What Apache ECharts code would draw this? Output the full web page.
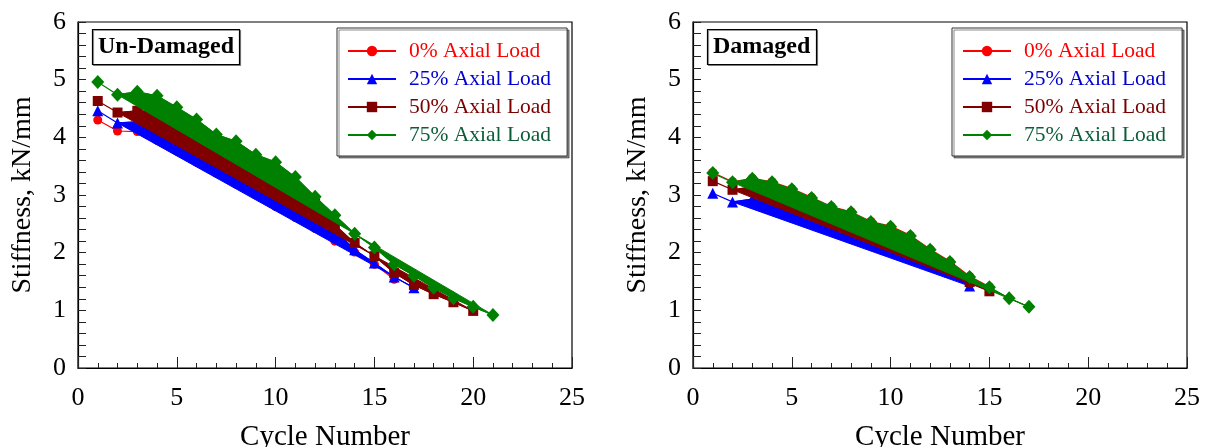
<!DOCTYPE html>
<html>
<head>
<meta charset="utf-8">
<script src="https://cdn.jsdelivr.net/npm/echarts@6/dist/echarts.min.js"></script>
<style>
  html, body { margin: 0; padding: 0; background: #fff; }
  #chart { width: 1211px; height: 447px; }
</style>
</head>
<body>
<div id="chart"></div>
<script>
// cycle numbers and stiffness (kN/mm) per axial load level
const seriesNames = ["0% Axial Load", "25% Axial Load", "50% Axial Load", "75% Axial Load"];
const seriesColors = ["#ff0000", "#0000ff", "#800000", "#008000"];
const legendTextColors = ["#ff0000", "#0000d0", "#7a0000", "#0d5c3a"];
const seriesSymbols = ["circle", "triangle", "rect", "diamond"];
const symbolSizes = [9, 11, 10, [13, 14]];
const hasFill = [false, true, true, true];

const xTicks = [0, 5, 10, 15, 20, 25];
const yTicks = [0, 1, 2, 3, 4, 5, 6];

// Un-Damaged
const undamagedCycles0 = [1, 2, 3, 4, 5, 6, 7, 8, 9, 10, 11, 12, 13, 14, 15, 16];
const undamaged0 = [4.30, 4.11, 4.10, 3.95, 3.76, 3.57, 3.38, 3.19, 3.00, 2.80, 2.61, 2.42, 2.20, 2.01, 1.80, 1.54];
const undamagedCycles25 = [1, 2, 3, 4, 5, 6, 7, 8, 9, 10, 11, 12, 13, 14, 15, 16, 17];
const undamaged25 = [4.46, 4.25, 4.27, 4.15, 3.95, 3.76, 3.57, 3.38, 3.19, 3.00, 2.80, 2.61, 2.40, 2.05, 1.82, 1.58, 1.39];
const undamagedCycles50 = [1, 2, 3, 4, 5, 6, 7, 8, 9, 10, 11, 12, 13, 14, 15, 16, 17, 18, 19, 20];
const undamaged50 = [4.63, 4.43, 4.46, 4.45, 4.25, 4.05, 3.85, 3.65, 3.45, 3.25, 3.05, 2.85, 2.48, 2.17, 1.94, 1.65, 1.44, 1.28, 1.14, 0.99];
const undamagedCycles75 = [1, 2, 3, 4, 5, 6, 7, 8, 9, 10, 11, 12, 13, 14, 15, 16, 17, 18, 19, 20, 21];
const undamaged75 = [4.96, 4.74, 4.79, 4.72, 4.52, 4.31, 4.05, 3.93, 3.70, 3.57, 3.31, 2.97, 2.65, 2.33, 2.09, 1.80, 1.60, 1.39, 1.21, 1.06, 0.92];

// Damaged
const damagedCycles0 = [1, 2, 3, 4, 5, 6, 7, 8, 9, 10, 11, 12, 13, 14, 15];
const damaged0 = [3.39, 3.23, 3.29, 3.23, 3.11, 2.96, 2.80, 2.71, 2.54, 2.46, 2.30, 2.06, 1.85, 1.59, 1.41];
const damagedCycles25 = [1, 2, 3, 4, 5, 6, 7, 8, 9, 10, 11, 12, 13, 14];
const damaged25 = [3.03, 2.88, 2.93, 2.86, 2.74, 2.61, 2.48, 2.35, 2.22, 2.08, 1.95, 1.81, 1.66, 1.42];
const damagedCycles50 = [1, 2, 3, 4, 5, 6, 7, 8, 9, 10, 11, 12, 13, 14, 15];
const damaged50 = [3.24, 3.09, 3.14, 3.02, 2.88, 2.74, 2.60, 2.45, 2.31, 2.17, 2.02, 1.88, 1.72, 1.49, 1.33];
const damagedCycles75 = [1, 2, 3, 4, 5, 6, 7, 8, 9, 10, 11, 12, 13, 14, 15, 16, 17];
const damaged75 = [3.38, 3.22, 3.28, 3.22, 3.10, 2.95, 2.79, 2.70, 2.53, 2.45, 2.29, 2.05, 1.84, 1.58, 1.40, 1.21, 1.06];

const undamagedSets = [
  [undamagedCycles0, undamaged0],
  [undamagedCycles25, undamaged25],
  [undamagedCycles50, undamaged50],
  [undamagedCycles75, undamaged75]
];
const damagedSets = [
  [damagedCycles0, damaged0],
  [damagedCycles25, damaged25],
  [damagedCycles50, damaged50],
  [damagedCycles75, damaged75]
];

const FONT = "Liberation Serif";
const chart = echarts.init(document.getElementById("chart"));

function zip(xs, ys) {
  return xs.map((x, i) => [x, ys[i]]);
}

function buildSeries(sets, axisIndex) {
  const out = [];
  let z = 2;
  sets.forEach((set, i) => {
    const points = zip(set[0], set[1]);
    if (hasFill[i]) {
      // band between the curve (from cycle 2 on) and the straight closing edge
      const polyPoints = points.slice(1);
      out.push({
        type: "custom",
        xAxisIndex: axisIndex,
        yAxisIndex: axisIndex,
        silent: true,
        z: z++,
        data: [0],
        renderItem: (params, api) => ({
          type: "polygon",
          shape: { points: polyPoints.map(p => api.coord(p)) },
          style: { fill: seriesColors[i], stroke: seriesColors[i], lineWidth: 1 }
        })
      });
    }
    out.push({
      name: seriesNames[i],
      type: "line",
      xAxisIndex: axisIndex,
      yAxisIndex: axisIndex,
      z: z++,
      data: points,
      symbol: seriesSymbols[i],
      symbolSize: symbolSizes[i],
      showSymbol: true,
      color: seriesColors[i],
      lineStyle: { width: 1.2, color: seriesColors[i] },
      itemStyle: { color: seriesColors[i] }
    });
  });
  return out;
}

function xAxisFor(gridIndex) {
  return {
    gridIndex: gridIndex,
    type: "value",
    min: xTicks[0],
    max: xTicks[xTicks.length - 1],
    interval: 5,
    name: "Cycle Number",
    nameLocation: "middle",
    nameGap: 55,
    nameTextStyle: { fontFamily: FONT, fontSize: 29, color: "#000" },
    axisLine: { show: true, lineStyle: { color: "#000", width: 1.2 } },
    axisTick: { show: true, inside: true, length: 11, lineStyle: { color: "#222" } },
    minorTick: { show: true, splitNumber: 5, length: 5, lineStyle: { color: "#222" } },
    splitLine: { show: false },
    axisLabel: { fontFamily: FONT, fontSize: 26, color: "#000", margin: 17 }
  };
}

function yAxisFor(gridIndex) {
  return {
    gridIndex: gridIndex,
    type: "value",
    min: yTicks[0],
    max: yTicks[yTicks.length - 1],
    interval: 1,
    name: "Stiffness, kN/mm",
    nameLocation: "middle",
    nameGap: 41,
    nameTextStyle: { fontFamily: FONT, fontSize: 28, color: "#000" },
    axisLine: { show: true, lineStyle: { color: "#000", width: 1.2 } },
    axisTick: { show: true, inside: true, length: 8, lineStyle: { color: "#222" } },
    minorTick: { show: true, splitNumber: 5, length: 8, lineStyle: { color: "#222" } },
    splitLine: { show: false },
    axisLabel: { fontFamily: FONT, fontSize: 26, color: "#000", margin: 12 }
  };
}

function legendFor(left) {
  return {
    left: left,
    top: 28,
    orient: "vertical",
    z: 20,
    backgroundColor: "#fff",
    borderColor: "#333",
    borderWidth: 1,
    shadowColor: "rgba(0,0,0,0.45)",
    shadowOffsetX: 2,
    shadowOffsetY: 2,
    shadowBlur: 0,
    padding: [12, 16, 10, 10],
    itemGap: 6,
    itemWidth: 48,
    itemHeight: 13,
    selectedMode: false,
    data: seriesNames.map((n, i) => ({
      name: n,
      textStyle: { color: legendTextColors[i] }
    })),
    textStyle: { fontFamily: FONT, fontSize: 21.5, lineHeight: 20.5, padding: [0, 0, 0, 8] }
  };
}

function titleFor(text, left) {
  return {
    text: text,
    left: left,
    top: 29,
    z: 20,
    padding: [6, 6],
    borderColor: "#000",
    borderWidth: 1.2,
    backgroundColor: "#fff",
    shadowColor: "rgba(0,0,0,0.4)",
    shadowOffsetX: 1,
    shadowOffsetY: 1,
    textStyle: { fontFamily: FONT, fontSize: 24, fontWeight: "bold", color: "#000", lineHeight: 24 }
  };
}

chart.setOption({
  animation: false,
  backgroundColor: "#fff",
  title: [titleFor("Un-Damaged", 92), titleFor("Damaged", 707)],
  legend: [legendFor(337), legendFor(952)],
  grid: [
    { left: 78, top: 22, width: 494, height: 346, show: true, borderColor: "#000", borderWidth: 1.2, containLabel: false, outerBoundsMode: "none" },
    { left: 693, top: 22, width: 494, height: 346, show: true, borderColor: "#000", borderWidth: 1.2, containLabel: false, outerBoundsMode: "none" }
  ],
  xAxis: [xAxisFor(0), xAxisFor(1)],
  yAxis: [yAxisFor(0), yAxisFor(1)],
  series: buildSeries(undamagedSets, 0).concat(buildSeries(damagedSets, 1))
});

window.addEventListener("resize", () => chart.resize());
</script>
</body>
</html>
